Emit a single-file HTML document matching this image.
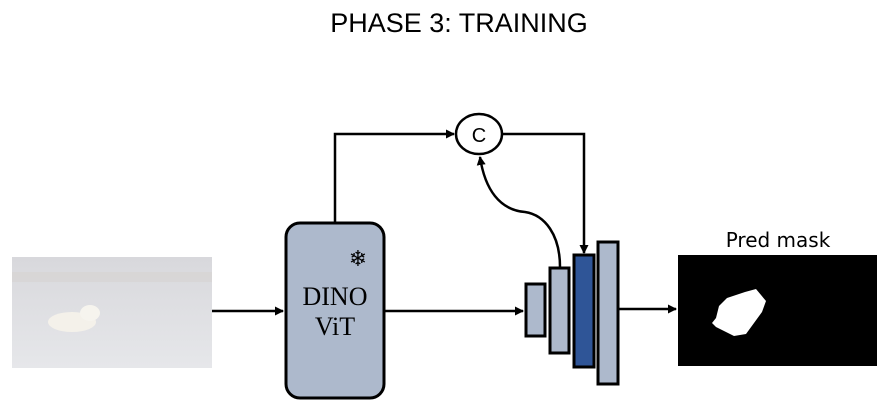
<!DOCTYPE html>
<html><head><style>body{margin:0;background:#fff}svg{display:block}</style></head><body>
<svg width="889" height="416" viewBox="0 0 889 416" xmlns="http://www.w3.org/2000/svg">
<defs>
<marker id="a" markerWidth="9" markerHeight="9" refX="8" refY="4.5" orient="auto" markerUnits="userSpaceOnUse"><path d="M0,0 L9,4.5 L0,9z" fill="#000"/></marker>
<linearGradient id="snow" x1="0" y1="0" x2="0" y2="1"><stop offset="0" stop-color="#d8d8dc"/><stop offset="1" stop-color="#e6e7ea"/></linearGradient>
</defs>
<text x="459" y="32" font-family="Liberation Sans, sans-serif" font-size="27" text-anchor="middle">PHASE 3: TRAINING</text>
<rect x="12" y="257" width="200" height="111" fill="url(#snow)"/>
<rect x="12" y="272" width="200" height="10" fill="#d4d0cb" opacity="0.4"/>
<ellipse cx="72" cy="322" rx="24" ry="10" fill="#f4f1ea"/>
<ellipse cx="90" cy="313" rx="10" ry="8" fill="#f6f4ee"/>
<path d="M212 311 H283" stroke="#000" stroke-width="2.5" marker-end="url(#a)"/>
<rect x="286" y="223" width="98" height="175" rx="14" fill="#adb9cc" stroke="#000" stroke-width="3"/>
<text x="358" y="266" font-size="22" text-anchor="middle" font-family="DejaVu Sans, sans-serif">❄</text>
<text x="335" y="305" font-family="Liberation Serif, serif" font-size="26" text-anchor="middle">DINO</text>
<text x="335" y="335" font-family="Liberation Serif, serif" font-size="26" text-anchor="middle">ViT</text>
<path d="M335 222 V134 H454" fill="none" stroke="#000" stroke-width="2.5" marker-end="url(#a)"/>
<ellipse cx="479" cy="134" rx="23" ry="20" fill="#fff" stroke="#000" stroke-width="2.5"/>
<text x="479" y="142" font-family="Liberation Sans, sans-serif" font-size="20" text-anchor="middle">C</text>
<path d="M502 134 H584 V253" fill="none" stroke="#000" stroke-width="2.5" marker-end="url(#a)"/>
<path d="M560 267 C560 235 545 215 525 212 C500 210 485 190 480 157" fill="none" stroke="#000" stroke-width="2.5" marker-end="url(#a)"/>
<path d="M385 311 H523" stroke="#000" stroke-width="2.5" marker-end="url(#a)"/>
<rect x="526" y="284" width="19" height="52" fill="#adb9cc" stroke="#000" stroke-width="3"/>
<rect x="550" y="268" width="19" height="85" fill="#adb9cc" stroke="#000" stroke-width="3"/>
<rect x="574" y="255" width="20" height="112" fill="#2f5597" stroke="#000" stroke-width="3"/>
<rect x="598" y="242" width="20" height="142" fill="#adb9cc" stroke="#000" stroke-width="3"/>
<path d="M618 309 H676" stroke="#000" stroke-width="2.5" marker-end="url(#a)"/>
<text x="778" y="247" font-family="DejaVu Sans, sans-serif" font-size="20" text-anchor="middle">Pred mask</text>
<rect x="678" y="255" width="199" height="111" fill="#000"/>
<path d="M719 306 L727 298 L745 292 L756 289 L766 301 L762 312 L746 334 L734 336 L716 327 L712 323 L716 318 Z" fill="#fff"/>
</svg>
</body></html>
